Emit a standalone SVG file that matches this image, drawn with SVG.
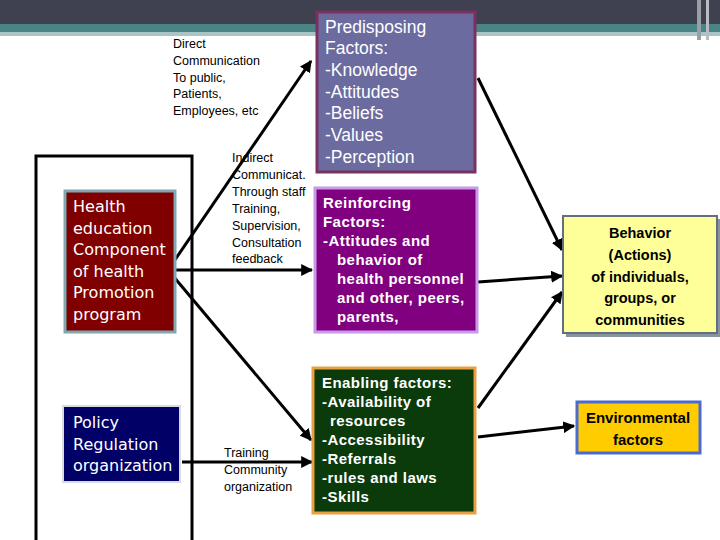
<svg xmlns="http://www.w3.org/2000/svg" width="720" height="540" viewBox="0 0 720 540">
<defs>
<marker id="ah" viewBox="0 0 10 10" refX="9" refY="5" markerWidth="4" markerHeight="4" orient="auto" markerUnits="strokeWidth">
<path d="M0,0 L10,5 L0,10 Z" fill="#000"/>
</marker>
<style>
.sm{font-family:"Liberation Sans",Arial,sans-serif;font-size:12.5px;fill:#000}
.dv{font-family:"DejaVu Sans",sans-serif;font-size:16px;fill:#fff}
.pr{font-family:"Liberation Sans",Arial,sans-serif;font-size:17.5px;fill:#fff}
.bd{font-family:"Liberation Sans",Arial,sans-serif;font-size:15px;font-weight:bold;letter-spacing:0.45px;fill:#fff}
.bh{font-family:"Liberation Sans",Arial,sans-serif;font-size:14.5px;font-weight:bold;fill:#000;text-anchor:middle}
.ln{stroke:#000;stroke-width:3;fill:none;marker-end:url(#ah)}
</style>
</defs>
<rect width="720" height="540" fill="#fff"/>
<g id="banner">
<rect x="0" y="0" width="720" height="24" fill="#3f4150"/>
<rect x="0" y="24" width="720" height="8" fill="#4a8585"/>
<rect x="0" y="32" width="720" height="4" fill="#a8c4c4"/>
<rect x="697" y="0" width="4" height="40" fill="#9aa0a8"/>
<rect x="706" y="0" width="3" height="40" fill="#b8bcc4"/>
</g>
<g id="program-frame">
<rect x="36" y="156" width="156" height="400" fill="none" stroke="#000" stroke-width="3"/>
</g>
<g id="labels">
<text class="sm" x="173" y="48">Direct</text>
<text class="sm" x="173" y="65">Communication</text>
<text class="sm" x="173" y="82">To public,</text>
<text class="sm" x="173" y="98">Patients,</text>
<text class="sm" x="173" y="115">Employees, etc</text>
<text class="sm" x="232" y="162">Indirect</text>
<text class="sm" x="232" y="179">Communicat.</text>
<text class="sm" x="232" y="196">Through staff</text>
<text class="sm" x="232" y="213">Training,</text>
<text class="sm" x="232" y="230">Supervision,</text>
<text class="sm" x="232" y="247">Consultation</text>
<text class="sm" x="232" y="263">feedback</text>
<text class="sm" x="224" y="457">Training</text>
<text class="sm" x="224" y="474">Community</text>
<text class="sm" x="224" y="491">organization</text>
</g>
<g id="connectors">
<line class="ln" x1="168" y1="270" x2="311" y2="61"/>
<line class="ln" x1="168" y1="270" x2="312" y2="270"/>
<line class="ln" x1="168" y1="270" x2="311" y2="440"/>
<line class="ln" x1="182" y1="462" x2="312" y2="462"/>
<line class="ln" x1="478" y1="78" x2="562" y2="250"/>
<line class="ln" x1="478" y1="282" x2="562" y2="276"/>
<line class="ln" x1="478" y1="408" x2="562" y2="292"/>
<line class="ln" x1="478" y1="437" x2="574" y2="426"/>
</g>
<g id="health-education">
<rect x="65" y="191" width="110" height="141" fill="#800000" stroke="#7fa8b0" stroke-width="3"/>
<text class="dv" x="73" y="212">Health</text>
<text class="dv" x="73" y="234">education</text>
<text class="dv" x="73" y="255">Component</text>
<text class="dv" x="73" y="277">of health</text>
<text class="dv" x="73" y="298">Promotion</text>
<text class="dv" x="73" y="320">program</text>
</g>
<g id="policy">
<rect x="63" y="406" width="117" height="76" fill="#000066" stroke="#d8dce0" stroke-width="2"/>
<text class="dv" x="73" y="428">Policy</text>
<text class="dv" x="73" y="450">Regulation</text>
<text class="dv" x="73" y="471">organization</text>
</g>
<g id="predisposing">
<rect x="317" y="12" width="158" height="160" fill="#6b6ba0" stroke="#7a3060" stroke-width="3"/>
<text class="pr" x="325" y="33">Predisposing</text>
<text class="pr" x="325" y="54">Factors:</text>
<text class="pr" x="325" y="76">-Knowledge</text>
<text class="pr" x="325" y="98">-Attitudes</text>
<text class="pr" x="325" y="119">-Beliefs</text>
<text class="pr" x="325" y="141">-Values</text>
<text class="pr" x="325" y="163">-Perception</text>
</g>
<g id="reinforcing">
<rect x="315" y="188" width="162" height="144" fill="#800080" stroke="#c89ae8" stroke-width="3"/>
<text class="bd" x="323" y="208">Reinforcing</text>
<text class="bd" x="323" y="227">Factors:</text>
<text class="bd" x="323" y="246">-Attitudes and</text>
<text class="bd" x="337" y="265">behavior of</text>
<text class="bd" x="337" y="284">health personnel</text>
<text class="bd" x="337" y="303">and other, peers,</text>
<text class="bd" x="337" y="322">parents,</text>
</g>
<g id="enabling">
<rect x="313" y="368" width="162" height="145" fill="#0b3a0b" stroke="#e8a040" stroke-width="3"/>
<text class="bd" x="322" y="388">Enabling factors:</text>
<text class="bd" x="322" y="407">-Availability of</text>
<text class="bd" x="330" y="426">resources</text>
<text class="bd" x="322" y="445">-Accessibility</text>
<text class="bd" x="322" y="464">-Referrals</text>
<text class="bd" x="322" y="483">-rules and laws</text>
<text class="bd" x="322" y="502">-Skills</text>
</g>
<g id="behavior">
<rect x="566" y="219" width="154" height="118" fill="#8a949c"/>
<rect x="563" y="216" width="154" height="117" fill="#ffff99" stroke="#607080" stroke-width="2"/>
<text class="bh" x="640" y="238">Behavior</text>
<text class="bh" x="640" y="260">(Actions)</text>
<text class="bh" x="640" y="282">of individuals,</text>
<text class="bh" x="640" y="303">groups, or</text>
<text class="bh" x="640" y="325">communities</text>
</g>
<g id="environmental">
<rect x="577" y="402" width="123" height="51" fill="#ffcc00" stroke="#4a6ad0" stroke-width="3"/>
<text class="bh" x="638" y="423" style="font-size:15px">Environmental</text>
<text class="bh" x="638" y="445" style="font-size:15px">factors</text>
</g>
</svg>
